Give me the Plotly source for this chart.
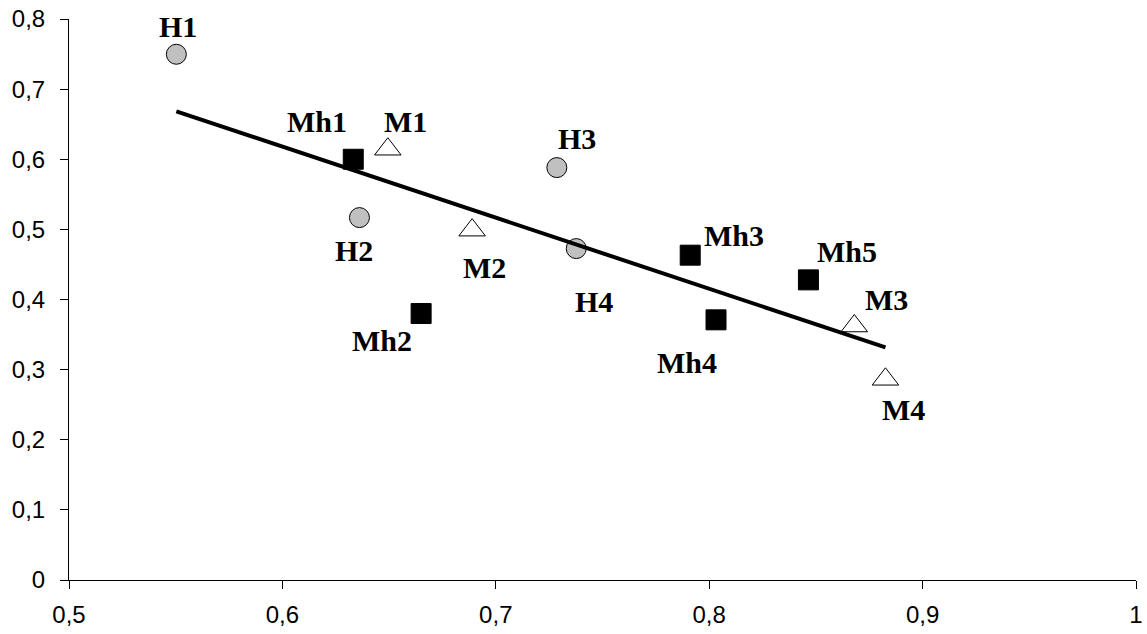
import numpy as np
import plotly.graph_objects as go

# ---- data ----
h_names = ["H1", "H2", "H3", "H4"]
h_x = [0.5503, 0.6361, 0.7286, 0.7377]
h_y = [0.7497, 0.5168, 0.5881, 0.4726]

mh_names = ["Mh1", "Mh2", "Mh3", "Mh4", "Mh5"]
mh_x = [0.6332, 0.6650, 0.7911, 0.8032, 0.8465]
mh_y = [0.6000, 0.3800, 0.4632, 0.3710, 0.4280]

m_names = ["M1", "M2", "M3", "M4"]
m_x = [0.6494, 0.6889, 0.8680, 0.8826]
m_y = [0.6143, 0.4989, 0.3622, 0.2862]

x_tickvals = [0.5, 0.6, 0.7, 0.8, 0.9, 1.0]
x_ticktext = ["0,5", "0,6", "0,7", "0,8", "0,9", "1"]
y_tickvals = [0, 0.1, 0.2, 0.3, 0.4, 0.5, 0.6, 0.7, 0.8]
y_ticktext = ["0", "0,1", "0,2", "0,3", "0,4", "0,5", "0,6", "0,7", "0,8"]

# label offsets (pixels: dx right, dy up)
label_offsets = {
    "H1": (2, 28), "H2": (-5, -33), "H3": (20, 29), "H4": (18, -53),
    "Mh1": (-36, 38), "Mh2": (-39, -27), "Mh3": (44, 20), "Mh4": (-29, -43), "Mh5": (39, 28),
    "M1": (18, 28), "M2": (12, -37), "M3": (32, 27), "M4": (18, -30),
}

fig = go.Figure()

fig.add_trace(go.Scatter(
    x=h_x, y=h_y, mode="markers", name="H",
    marker=dict(symbol="circle", size=20, color="#c0c0c0", line=dict(color="black", width=1)),
))
fig.add_trace(go.Scatter(
    x=mh_x, y=mh_y, mode="markers", name="Mh",
    marker=dict(symbol="square", size=20, color="black", line=dict(color="black", width=1)),
))
fig.add_trace(go.Scatter(
    x=m_x, y=m_y, mode="markers", name="M",
    marker=dict(symbol="triangle-up", size=23, color="white", line=dict(color="black", width=1)),
))

# linear trend line over all points
all_x = np.array(h_x + mh_x + m_x)
all_y = np.array(h_y + mh_y + m_y)
slope, intercept = np.polyfit(all_x, all_y, 1)
tx = np.array([all_x.min(), all_x.max()])
fig.add_trace(go.Scatter(
    x=tx, y=slope * tx + intercept, mode="lines", name="trend",
    line=dict(color="black", width=4),
))

for names, xs, ys in [(h_names, h_x, h_y), (mh_names, mh_x, mh_y), (m_names, m_x, m_y)]:
    for n, xv, yv in zip(names, xs, ys):
        dx, dy = label_offsets[n]
        fig.add_annotation(
            x=xv, y=yv, xref="x", yref="y", text="<b>%s</b>" % n,
            showarrow=False, xshift=dx, yshift=dy,
            font=dict(family="Liberation Serif", size=30, color="black"),
        )

axis_common = dict(
    showgrid=False, zeroline=False, showline=True, linecolor="black", linewidth=1,
    ticks="outside", ticklen=8, tickcolor="black", tickwidth=1, automargin=False,
    tickfont=dict(family="Liberation Sans", size=24, color="black"),
)
fig.update_xaxes(range=[0.5, 1.0], tickvals=x_tickvals, ticktext=x_ticktext,
                 ticklabelstandoff=5, **axis_common)
fig.update_yaxes(range=[0, 0.8], tickvals=y_tickvals, ticktext=y_ticktext,
                 ticklabelstandoff=10, **axis_common)

fig.update_layout(
    width=1147, height=634,
    margin=dict(l=69, r=11, t=19, b=54),
    plot_bgcolor="white", paper_bgcolor="white",
    showlegend=False,
)

fig.write_html("out.html", config={"displayModeBar": False})

# remove default page margin so the figure sits at the window origin
with open("out.html", "r", encoding="utf-8") as f:
    html = f.read()
html = html.replace("<head>", "<head><style>html,body{margin:0;padding:0;overflow:hidden}</style>", 1)
with open("out.html", "w", encoding="utf-8") as f:
    f.write(html)
